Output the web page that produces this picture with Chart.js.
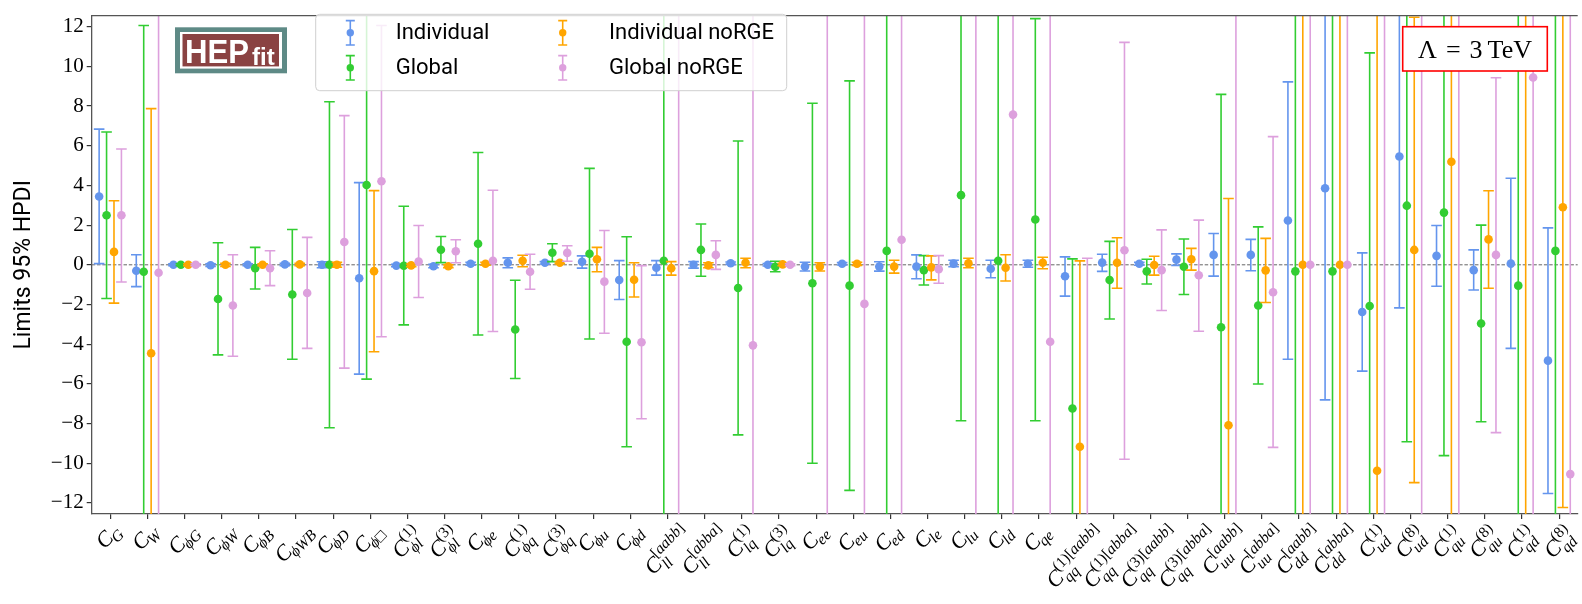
<!DOCTYPE html>
<html lang="en">
<head>
<meta charset="UTF-8">
<title>Limits 95% HPDI</title>
<script src="https://cdn.jsdelivr.net/npm/chart.js"></script>
<style>
  html, body { margin: 0; padding: 0; background: #fff; }
  #wrap { position: relative; width: 1582px; height: 604px; overflow: hidden; }
  #wrap canvas { position: absolute; left: 0; top: 0; }
  .lab {
    position: absolute;
    font: 22px "Liberation Serif", "DejaVu Serif", serif;
    line-height: 22px;
    white-space: nowrap;
    color: #000;
    transform: rotate(-46deg);
    transform-origin: 50% 50%;
  }
  .lab i { font-style: italic; }
  .ss { display: inline-block; font-size: 15.5px; line-height: 16px; vertical-align: -6.5px; }
  .ss span { display: block; }
  .sb { font-size: 15.5px; vertical-align: -4.5px; margin-left: -1.5px; }
</style>
</head>
<body>
<div id="wrap"><canvas id="myChart" width="1582" height="604"></canvas></div>
<script>
// Wilson coefficients: subscript and superscript of each C label
const catSub = ['G','W','ϕG','ϕW','ϕB','ϕWB','ϕD','ϕ□','ϕl','ϕl','ϕe','ϕq','ϕq','ϕu','ϕd',
  'll','ll','lq','lq','ee','eu','ed','le','lu','ld','qe','qq','qq','qq','qq',
  'uu','uu','dd','dd','ud','ud','qu','qu','qd','qd'];
const catSup = ['','','','','','','','','(1)','(3)','','(1)','(3)','','',
  '[aabb]','[abba]','(1)','(3)','','','','','','','','(1)[aabb]','(1)[abba]','(3)[aabb]','(3)[abba]',
  '[aabb]','[abba]','[aabb]','[abba]','(1)','(8)','(1)','(8)','(1)','(8)'];

// mean and 95% HPDI bounds per fit
const indVal = [3.44,-0.30,0,-0.02,0,0.02,0,-0.68,-0.04,-0.07,0.05,0.10,0.10,0.15,-0.77,-0.15,0,0.08,0,-0.09,
  0.05,-0.09,-0.09,0.06,-0.20,0.05,-0.58,0.11,0.05,0.26,0.50,0.50,2.23,3.86,-2.38,5.46,0.45,-0.27,0.06,-4.83];
const indLo = [0.06,-1.10,-0.05,-0.08,-0.05,-0.04,-0.15,-5.51,-0.10,-0.15,-0.02,-0.15,0.04,-0.17,-1.75,-0.52,-0.17,0.02,-0.06,-0.31,
  -0.01,-0.32,-0.70,-0.10,-0.65,-0.12,-1.58,-0.33,-0.02,-0.03,-0.57,-0.30,-4.76,-6.81,-5.36,-2.17,-1.08,-1.27,-4.21,-11.53];
const indHi = [6.84,0.51,0.05,0.05,0.05,0.08,0.15,4.14,0.03,0.02,0.12,0.35,0.16,0.45,0.21,0.21,0.16,0.14,0.06,0.13,
  0.11,0.15,0.50,0.23,0.23,0.23,0.40,0.53,0.12,0.55,1.58,1.28,9.22,15.2,0.60,13.6,1.98,0.75,4.36,1.86];

const gloVal = [2.50,-0.35,0,-1.72,-0.17,-1.50,0,4.02,-0.05,0.76,1.06,-3.26,0.61,0.56,-3.88,0.20,0.75,-1.17,-0.10,-0.93,
  -1.05,0.70,-0.27,3.51,0.20,2.28,-7.24,-0.77,-0.33,-0.10,-3.15,-2.05,-0.33,-0.33,-2.08,2.98,2.63,-2.96,-1.05,0.70];
const gloLo = [-1.70,-14.5,-0.05,-4.54,-1.22,-4.76,-8.21,-5.76,-3.03,0.11,-3.54,-5.73,0.16,-3.74,-9.17,-24,-0.58,-8.57,-0.35,-10.0,
  -11.37,-22,-1.02,-7.86,-21,-7.86,-15.5,-2.73,-0.97,-1.50,-14.8,-6.01,-19,-19,-14.0,-8.92,-9.62,-7.91,-20,-18];
const gloHi = [6.69,12.06,0.05,1.11,0.88,1.78,8.22,13.8,2.95,1.43,5.66,-0.78,1.06,4.86,1.41,24,2.06,6.24,0.18,8.14,
  9.27,23,0.46,14.9,21,12.41,0.30,1.18,0.28,1.30,8.59,1.91,19,19,10.68,14.9,14.9,2.00,20,18];

const indNoVal = [0.65,-4.46,0,0,0,0.02,0,-0.32,-0.03,-0.07,0.05,0.20,0.10,0.28,-0.75,-0.17,-0.03,0.10,0.02,-0.09,
  0.05,-0.09,-0.13,0.08,-0.15,0.10,-9.17,0.10,-0.01,0.28,-8.09,-0.28,0,0,-10.38,0.75,5.19,1.28,16.0,2.90];
const indNoLo = [-1.93,-17.0,-0.05,-0.08,-0.05,-0.04,-0.12,-4.38,-0.10,-0.14,-0.02,-0.10,0.05,-0.35,-1.62,-0.52,-0.15,-0.15,-0.05,-0.31,
  -0.03,-0.42,-0.76,-0.15,-0.82,-0.20,-18.5,-1.18,-0.52,-0.27,-19.5,-1.90,-22,-22,-30,-10.98,-14.0,-1.18,-15,-12.23];
const indNoHi = [3.23,7.87,0.05,0.08,0.05,0.08,0.12,3.74,0.04,0.00,0.12,0.48,0.15,0.88,0.10,0.16,0.10,0.33,0.08,0.10,
  0.13,0.23,0.45,0.33,0.51,0.38,0.20,1.36,0.43,0.83,3.34,1.33,22,22,13.5,12.48,24,3.73,45,17.0];

const gloNoVal = [2.50,-0.40,0,-2.05,-0.17,-1.42,1.15,4.21,0.16,0.68,0.20,-0.35,0.60,-0.85,-3.90,15.5,0.50,-4.06,0,14.5,
  -1.97,1.26,-0.22,-14.5,7.57,-3.88,-20.0,0.73,-0.27,-0.53,16.0,-1.38,0,0,-15.5,-16.0,15.0,0.50,9.44,-10.55];
const gloNoLo = [-0.87,-30,-0.05,-4.61,-1.05,-4.21,-5.21,-3.63,-1.65,0.10,-3.36,-1.23,0.18,-3.45,-7.76,-22,-0.23,-25,-0.05,-25,
  -28,-26,-0.93,-38,-16,-30,-40,-9.80,-2.30,-3.35,-20,-9.20,-30,-30,-40,-45,-28,-8.46,-19,-36];
const gloNoHi = [5.84,30,0.05,0.51,0.71,1.38,7.52,12.06,1.98,1.26,3.76,0.53,0.96,1.73,-0.04,50,1.21,18,0.05,52,
  24,27,0.46,12.8,31,20,0.33,11.21,1.76,2.25,48,6.46,30,30,14,13.5,46,9.43,38,16];

const yTicks = [-12,-10,-8,-6,-4,-2,0,2,4,6,8,10,12];
const offsets = [-0.3, -0.1, 0.1, 0.3];

const series = [
  { label: 'Individual',       color: '#6495ed', val: indVal,   lo: indLo,   hi: indHi },
  { label: 'Global',           color: '#32cd32', val: gloVal,   lo: gloLo,   hi: gloHi },
  { label: 'Individual noRGE', color: '#ffa500', val: indNoVal, lo: indNoLo, hi: indNoHi },
  { label: 'Global noRGE',     color: '#dda0dd', val: gloNoVal, lo: gloNoLo, hi: gloNoHi }
];

const SERIF = '"Liberation Serif", "DejaVu Serif", serif';
const SANS = 'Roboto, "DejaVu Sans", sans-serif';
const LABEL_ANGLE = 46;

// whiskers drawn just before each series' markers
const errorBars = {
  id: 'errorBars',
  beforeDatasetDraw(chart, args) {
    const s = series[args.index];
    const { ctx, chartArea: a, scales: { x, y } } = chart;
    ctx.save();
    ctx.beginPath();
    ctx.rect(a.left, a.top, a.right - a.left, a.bottom - a.top);
    ctx.clip();
    ctx.strokeStyle = s.color;
    ctx.lineWidth = 1.6;
    s.val.forEach((v, i) => {
      const px = x.getPixelForValue(i + offsets[args.index]);
      const y0 = y.getPixelForValue(s.lo[i]);
      const y1 = y.getPixelForValue(s.hi[i]);
      ctx.beginPath();
      ctx.moveTo(px, y0); ctx.lineTo(px, y1);
      ctx.moveTo(px - 5.3, y0); ctx.lineTo(px + 5.3, y0);
      ctx.moveTo(px - 5.3, y1); ctx.lineTo(px + 5.3, y1);
      ctx.stroke();
    });
    ctx.restore();
  }
};

// dashed zero line and top spine
const frame = {
  id: 'frame',
  beforeDatasetsDraw(chart) {
    const { ctx, chartArea: a, scales: { y } } = chart;
    const y0 = y.getPixelForValue(0);
    ctx.save();
    ctx.strokeStyle = '#666';
    ctx.lineWidth = 1;
    ctx.setLineDash([3.5, 1.8]);
    ctx.beginPath();
    ctx.moveTo(a.left, y0); ctx.lineTo(a.right, y0);
    ctx.stroke();
    ctx.restore();
  },
  afterDraw(chart) {
    const { ctx, chartArea: a } = chart;
    ctx.save();
    ctx.strokeStyle = '#555';
    ctx.lineWidth = 1.3;
    ctx.beginPath();
    ctx.moveTo(a.left, a.top); ctx.lineTo(a.right, a.top);
    ctx.stroke();
    ctx.restore();
  }
};

// axis title, logo, legend and scale box
const decorations = {
  id: 'decorations',
  afterDraw(chart) {
    const { ctx, chartArea: a } = chart;
    ctx.save();

    ctx.fillStyle = '#000';
    ctx.font = '23px ' + SANS;
    ctx.textAlign = 'center';
    ctx.textBaseline = 'middle';
    ctx.translate(24, (a.top + a.bottom) / 2);
    ctx.rotate(-Math.PI / 2);
    ctx.fillText('Limits 95% HPDI', 0, 0);
    ctx.setTransform(1, 0, 0, 1, 0, 0);

    // HEPfit logo
    ctx.fillStyle = '#5e8a86';
    ctx.fillRect(175, 27.3, 112, 46);
    ctx.fillStyle = '#fff';
    ctx.fillRect(180, 32, 102, 36.6);
    ctx.fillStyle = '#8a4242';
    ctx.fillRect(182.5, 34, 96.5, 32.4);
    ctx.fillStyle = '#fff';
    ctx.textAlign = 'left';
    ctx.textBaseline = 'alphabetic';
    ctx.font = 'bold 34px "Liberation Sans", Arial, sans-serif';
    ctx.fillText('HEP', 185, 62.7, 64);
    ctx.font = 'bold 24px "Liberation Sans", Arial, sans-serif';
    ctx.fillText('fit', 252, 64.5, 27);

    // legend
    ctx.beginPath();
    ctx.roundRect(315.7, 14.3, 471, 76.4, 4);
    ctx.fillStyle = 'rgba(255,255,255,0.8)';
    ctx.fill();
    ctx.strokeStyle = '#cfcfcf';
    ctx.lineWidth = 1;
    ctx.stroke();
    const slots = [[350.3, 395.7, 32.8], [350.3, 395.7, 67.8], [562.7, 609, 32.8], [562.7, 609, 67.8]];
    series.forEach((s, k) => {
      const [mx, tx, my] = slots[k];
      ctx.strokeStyle = s.color;
      ctx.lineWidth = 1.6;
      ctx.beginPath();
      ctx.moveTo(mx, my - 12.2); ctx.lineTo(mx, my + 12.2);
      ctx.moveTo(mx - 4.5, my - 12.2); ctx.lineTo(mx + 4.5, my - 12.2);
      ctx.moveTo(mx - 4.5, my + 12.2); ctx.lineTo(mx + 4.5, my + 12.2);
      ctx.stroke();
      ctx.fillStyle = s.color;
      ctx.beginPath();
      ctx.arc(mx, my, 3.7, 0, Math.PI * 2);
      ctx.fill();
      ctx.fillStyle = '#000';
      ctx.font = '22px ' + SANS;
      ctx.textBaseline = 'middle';
      ctx.fillText(s.label, tx, my + 1);
    });

    // Λ = 3 TeV box
    ctx.fillStyle = '#fff';
    ctx.fillRect(1402.7, 26.7, 144.6, 44.3);
    ctx.strokeStyle = '#ff0000';
    ctx.lineWidth = 1.6;
    ctx.strokeRect(1402.7, 26.7, 144.6, 44.3);
    ctx.fillStyle = '#000';
    ctx.textBaseline = 'alphabetic';
    const pieces = [['Λ', 9], ['=', 9], ['3', 5], ['TeV', 0]];
    ctx.font = '26px ' + SERIF;
    let total = 0;
    pieces.forEach(([t, gap]) => { total += ctx.measureText(t).width + gap; });
    let px = 1475 - total / 2;
    pieces.forEach(([t, gap]) => {
      ctx.fillText(t, px, 58);
      px += ctx.measureText(t).width + gap;
    });

    ctx.restore();
  }
};

const ctx = document.getElementById('myChart').getContext('2d');
const chart = new Chart(ctx, {
  type: 'scatter',
  data: {
    datasets: series.map((s, k) => ({
      label: s.label,
      data: s.val.map((v, i) => ({ x: i + offsets[k], y: v })),
      backgroundColor: s.color,
      borderColor: s.color,
      pointRadius: 4.3,
      pointBorderWidth: 0,
      pointHoverRadius: 4.3,
      clip: 0,
      order: 4 - k
    }))
  },
  options: {
    responsive: false,
    animation: false,
    devicePixelRatio: 1,
    layout: { padding: { top: 11, right: 0, left: 0, bottom: 0 } },
    plugins: { legend: { display: false }, tooltip: { enabled: false } },
    scales: {
      x: {
        type: 'linear',
        min: -0.5,
        max: 39.5,
        afterBuildTicks: s => { s.ticks = catSub.map((_, i) => ({ value: i })); },
        afterFit: s => { s.height = 90; },
        ticks: { autoSkip: false, maxRotation: 0, callback: () => '' },
        grid: { drawOnChartArea: false, drawTicks: true, tickLength: 5, color: '#333', lineWidth: 1.2 },
        border: { color: '#555', width: 1.3 }
      },
      y: {
        min: -12.56,
        max: 12.56,
        afterBuildTicks: s => { s.ticks = yTicks.map(v => ({ value: v })); },
        afterFit: s => { s.width = 91.7; },
        ticks: {
          color: '#000',
          padding: 3,
          font: { family: SERIF, size: 21 },
          callback: v => v < 0 ? '\u2212' + (-v) : String(v)
        },
        grid: { drawOnChartArea: false, drawTicks: true, tickLength: 5, color: '#333', lineWidth: 1.2 },
        border: { color: '#555', width: 1.3 }
      }
    }
  },
  plugins: [frame, errorBars, decorations]
});

// C_{sub}^{sup} tick labels: letters italic, digits and brackets upright,
// turned so the turned box sits centred under each tick
function isLetter(ch) { return /[A-Za-zϕ]/.test(ch); }
function mathHtml(str) {
  return [...str].map(ch => isLetter(ch) ? '<i>' + ch + '</i>' : ch).join('');
}

function placeLabels(chart) {
  const wrap = document.getElementById('wrap');
  const a = chart.chartArea;
  const t = LABEL_ANGLE * Math.PI / 180;
  catSub.forEach((sub, i) => {
    const sup = catSup[i];
    const el = document.createElement('div');
    el.className = 'lab';
    let html = '<i>C</i>';
    if (sup) html += '<span class="ss"><span>' + mathHtml(sup) + '</span><span>' + mathHtml(sub) + '</span></span>';
    else html += '<span class="sb">' + mathHtml(sub) + '</span>';
    el.innerHTML = html;
    wrap.appendChild(el);
    const W = el.offsetWidth, H = el.offsetHeight;
    const boxH = W * Math.sin(t) + H * Math.cos(t);
    const cx = chart.scales.x.getPixelForValue(i);
    el.style.left = (cx - W / 2) + 'px';
    el.style.top = (a.bottom + 6 + boxH / 2 - H / 2) + 'px';
  });
}
placeLabels(chart);
</script>
</body>
</html>
